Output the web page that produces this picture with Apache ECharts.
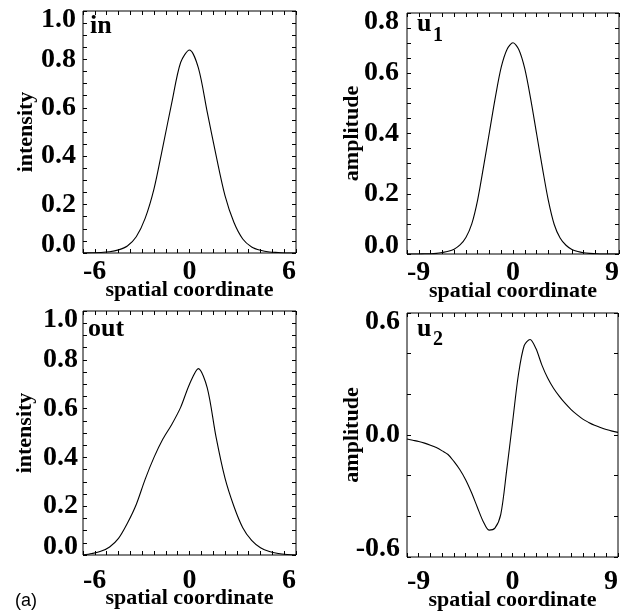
<!DOCTYPE html>
<html>
<head>
<meta charset="utf-8">
<script src="https://cdn.jsdelivr.net/npm/echarts@6/dist/echarts.min.js"></script>
<style>
  html, body { margin: 0; padding: 0; background: #fff; }
  #chart { width: 639px; height: 614px; }
</style>
</head>
<body>
<div id="chart"></div>
<script>
// ---------- data ----------
// panel "in": input intensity (x step 0.5)
const inX = [-6, -5.5, -5, -4.5, -4, -3.5, -3, -2.5, -2, -1.5, -1, -0.5, 0, 0.5, 1, 1.5, 2, 2.5, 3, 3.5, 4, 4.5, 5, 5.5, 6];
const inY = [0, 0.001, 0.002, 0.005, 0.013, 0.029, 0.067, 0.143, 0.265, 0.44, 0.62, 0.787, 0.839, 0.765, 0.582, 0.402, 0.237, 0.127, 0.058, 0.025, 0.011, 0.004, 0.002, 0, 0];

// panel "u1": first mode amplitude (x step 0.5)
const u1X = [-9, -8.5, -8, -7.5, -7, -6.5, -6, -5.5, -5, -4.5, -4, -3.5, -3, -2.5, -2, -1.5, -1, -0.5, 0, 0.5, 1, 1.5, 2, 2.5, 3, 3.5, 4, 4.5, 5, 5.5, 6, 6.5, 7, 7.5, 8, 8.5, 9];
const u1Y = [0, 0, 0, 0.001, 0.001, 0.002, 0.005, 0.009, 0.016, 0.03, 0.055, 0.1, 0.18, 0.29, 0.405, 0.52, 0.62, 0.68, 0.701, 0.678, 0.615, 0.515, 0.4, 0.285, 0.178, 0.098, 0.053, 0.029, 0.015, 0.008, 0.004, 0.002, 0.001, 0, 0, 0, 0];

// panel "out": output intensity (x step 0.5)
const outX = [-6, -5.5, -5, -4.5, -4, -3.5, -3, -2.5, -2, -1.5, -1, -0.5, 0, 0.5, 1, 1.5, 2, 2.5, 3, 3.5, 4, 4.5, 5, 5.5, 6];
const outY = [0, 0.006, 0.015, 0.033, 0.068, 0.13, 0.207, 0.31, 0.40, 0.475, 0.535, 0.605, 0.70, 0.764, 0.685, 0.482, 0.315, 0.20, 0.112, 0.06, 0.03, 0.014, 0.006, 0.002, 0];

// panel "u2": second mode amplitude (x step 0.5)
const u2X = [-9, -8.5, -8, -7.5, -7, -6.5, -6, -5.5, -5, -4.5, -4, -3.5, -3, -2.5, -2, -1.5, -1, -0.5, 0, 0.5, 1, 1.5, 2, 2.5, 3, 3.5, 4, 4.5, 5, 5.5, 6, 6.5, 7, 7.5, 8, 8.5, 9];
const u2Y = [-0.02, -0.026, -0.032, -0.04, -0.05, -0.062, -0.078, -0.096, -0.13, -0.17, -0.22, -0.283, -0.355, -0.425, -0.468, -0.458, -0.39, -0.175, 0.06, 0.295, 0.44, 0.47, 0.425, 0.345, 0.28, 0.23, 0.19, 0.155, 0.125, 0.1, 0.078, 0.062, 0.048, 0.037, 0.027, 0.019, 0.013];

// tick labels
const ioXLabels = [-6, 0, 6];
const uXLabels = [-9, 0, 9];
const intensityYLabels = [0, 0.2, 0.4, 0.6, 0.8, 1.0];
const u1YLabels = [0, 0.2, 0.4, 0.6, 0.8];
const u2YLabels = [-0.6, 0, 0.6];

// ---------- helpers ----------
const FONT = 'Liberation Serif';
function steps(a, b, n) { // n equal divisions between a and b (tick positions)
  const out = [];
  for (let i = 0; i <= n; i++) out.push(+(a + (b - a) * i / n).toFixed(6));
  return out;
}
function pairs(xs, ys) { return xs.map((x, i) => [x, ys[i]]); }

const grids = [
  { left: 83, top: 11, width: 213, height: 242 },   // in
  { left: 407, top: 13, width: 212, height: 241 },  // u1
  { left: 83, top: 311, width: 213, height: 244 },  // out
  { left: 407, top: 313, width: 211, height: 244 }  // u2
].map(g => Object.assign({ show: true, borderColor: '#000', borderWidth: 1, backgroundColor: 'transparent' }, g));

const panels = [
  { xr: [-6, 6], xl: ioXLabels, xt: steps(-6, 6, 18), yr: [0, 1], yl: intensityYLabels, yt: steps(0, 1, 20), yname: 'intensity', xGap: 26, xMargin: 5, yMargin: 7, yGap: 46 },
  { xr: [-9, 9], xl: uXLabels, xt: steps(-9, 9, 18), yr: [0, 0.8], yl: u1YLabels, yt: steps(0, 0.8, 16), yname: 'amplitude', xGap: 26, xMargin: 5, yMargin: 8, yGap: 44 },
  { xr: [-6, 6], xl: ioXLabels, xt: steps(-6, 6, 18), yr: [0, 1], yl: intensityYLabels, yt: steps(0, 1, 20), yname: 'intensity', xGap: 32, xMargin: 12, yMargin: 5, yGap: 47 },
  { xr: [-9, 9], xl: uXLabels, xt: steps(-9, 9, 18), yr: [-0.6, 0.6], yl: u2YLabels, yt: steps(-0.6, 0.6, 6), yname: 'amplitude', xGap: 32, xMargin: 11, yMargin: 7, yGap: 44 }
];

const labelStyle = { fontFamily: FONT, fontWeight: 'bold', fontSize: 28, color: '#000' };
const nameStyle = { fontFamily: FONT, fontWeight: 'bold', fontSize: 22, color: '#000' };
const tickStyle = { show: true, inside: true, length: 4, lineStyle: { color: '#000', width: 1 } };
const noLine = { show: false, onZero: false };

const xAxes = [], yAxes = [];
panels.forEach((p, i) => {
  xAxes.push({
    type: 'value', gridIndex: i, position: 'bottom', min: p.xr[0], max: p.xr[1],
    axisLine: noLine, splitLine: { show: false },
    axisTick: Object.assign({ customValues: p.xt }, tickStyle),
    axisLabel: Object.assign({ customValues: p.xl, margin: p.xMargin, alignMinLabel: 'left', alignMaxLabel: 'right', formatter: v => String(v) }, labelStyle),
    name: 'spatial coordinate', nameLocation: 'middle', nameGap: p.xGap, nameMoveOverlap: false, nameTextStyle: nameStyle
  });
  xAxes.push({
    type: 'value', gridIndex: i, position: 'top', min: p.xr[0], max: p.xr[1],
    axisLine: noLine, splitLine: { show: false }, axisLabel: { show: false },
    axisTick: Object.assign({ customValues: p.xt }, tickStyle)
  });
  yAxes.push({
    type: 'value', gridIndex: i, position: 'left', min: p.yr[0], max: p.yr[1],
    axisLine: noLine, splitLine: { show: false },
    axisTick: Object.assign({ customValues: p.yt }, tickStyle),
    axisLabel: Object.assign({ customValues: p.yl, margin: p.yMargin, lineHeight: 17, verticalAlignMinLabel: 'bottom', verticalAlignMaxLabel: 'top', formatter: v => v.toFixed(1) }, labelStyle),
    name: p.yname, nameLocation: 'middle', nameGap: p.yGap, nameMoveOverlap: false, nameTextStyle: nameStyle
  });
  yAxes.push({
    type: 'value', gridIndex: i, position: 'right', min: p.yr[0], max: p.yr[1],
    axisLine: noLine, splitLine: { show: false }, axisLabel: { show: false },
    axisTick: Object.assign({ customValues: p.yt }, tickStyle)
  });
});

const seriesData = [pairs(inX, inY), pairs(u1X, u1Y), pairs(outX, outY), pairs(u2X, u2Y)];
const series = seriesData.map((d, i) => ({
  type: 'line', xAxisIndex: 2 * i, yAxisIndex: 2 * i, data: d,
  showSymbol: false, smooth: 0.3, silent: true,
  lineStyle: { color: '#000', width: 1.1 }
}));

const panelText = { fontFamily: FONT, fontWeight: 'bold', fontSize: 26, color: '#000' };
const subText = { fontFamily: FONT, fontWeight: 'bold', fontSize: 20, color: '#000' };
const titles = [
  { text: 'in', left: 90, top: 13, textStyle: panelText },
  { text: 'u', left: 417, top: 11, textStyle: panelText },
  { text: '1', left: 433, top: 26, textStyle: subText },
  { text: 'out', left: 88, top: 316, textStyle: panelText },
  { text: 'u', left: 417, top: 316, textStyle: panelText },
  { text: '2', left: 433, top: 330, textStyle: subText },
  { text: '(a)', left: 15, top: 592, textStyle: { fontFamily: 'Liberation Sans', fontWeight: 'normal', fontSize: 18, color: '#000' } }
].map(t => Object.assign({ padding: 0, itemGap: 0 }, t));

const chart = echarts.init(document.getElementById('chart'), null, { renderer: 'canvas' });
chart.setOption({
  animation: false,
  backgroundColor: '#fff',
  title: titles,
  grid: grids,
  xAxis: xAxes,
  yAxis: yAxes,
  series: series
});
</script>
</body>
</html>
